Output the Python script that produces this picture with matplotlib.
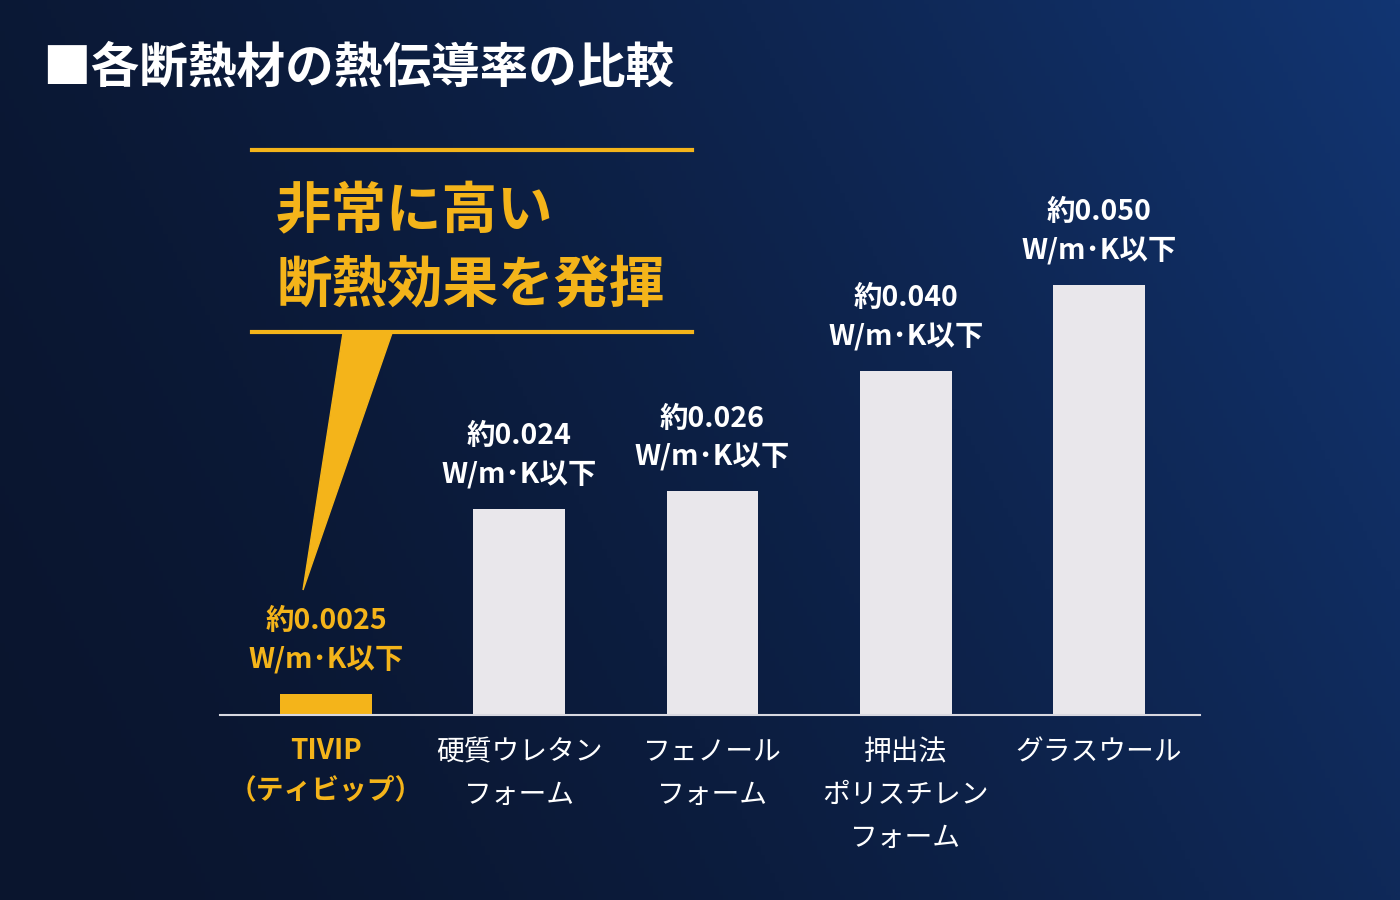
import matplotlib
matplotlib.use("Agg")
import matplotlib.pyplot as plt
import numpy as np
from matplotlib.patches import Polygon

plt.rcParams['font.family'] = ['Noto Sans CJK JP', 'DejaVu Sans']

categories = ["TIVIP\n（ティビップ）", "硬質ウレタン\nフォーム", "フェノール\nフォーム",
              "押出法\nポリスチレン\nフォーム", "グラスウール"]
values = [0.0025, 0.024, 0.026, 0.040, 0.050]
value_labels = ["約0.0025", "約0.024", "約0.026", "約0.040", "約0.050"]
unit = "W/m･K以下"

W, H = 1400, 900
GOLD = "#f4b41a"
BAR = "#e9e7eb"

fig = plt.figure(figsize=(14, 9), dpi=100)

def fx(px):
    return px / W

def fy(py):
    return 1 - py / H

# background gradient
bg = fig.add_axes([0, 0, 1, 1])
xx = np.linspace(0, 1, 300)
yy = np.linspace(0, 1, 200)
X, Y = np.meshgrid(xx, yy)
t = np.clip(0.75 * X + 0.25 * (1 - Y), 0, 1) ** 1.6
c0 = np.array([0x0a, 0x15, 0x2e]) / 255
c1 = np.array([0x12, 0x35, 0x72]) / 255
img = c0[None, None, :] * (1 - t[..., None]) + c1[None, None, :] * t[..., None]
bg.imshow(img, aspect="auto", extent=[0, 1, 0, 1], origin="upper")
bg.set_axis_off()

# main bar axes
left, right, base, top = 220, 1200, 715, 285
ax = fig.add_axes([fx(left), fy(base), fx(right - left), (base - top) / H])
ax.patch.set_alpha(0)
x = np.arange(len(values))
colors = [GOLD] + [BAR] * (len(values) - 1)
ax.bar(x, values, width=0.476, color=colors)
ax.set_xlim(-0.549, 4.523)
ax.set_ylim(0, 0.05)
for s in ["top", "right", "left"]:
    ax.spines[s].set_visible(False)
ax.spines["bottom"].set_color("#d8d8e0")
ax.spines["bottom"].set_linewidth(1.5)
ax.set_yticks([])
ax.set_xticks([])

for i, (v, lab) in enumerate(zip(values, value_labels)):
    col = GOLD if i == 0 else "white"
    ax.annotate(f"{lab}\n{unit}", (i, v), xytext=(0, 14), textcoords="offset points",
                ha="center", va="bottom", color=col, fontsize=20.5,
                fontweight="bold", linespacing=1.5)
    ax.annotate(categories[i], (i, 0), xytext=(0, -16), textcoords="offset points",
                ha="center", va="top", color=col, fontsize=20,
                fontweight="bold" if i == 0 else "normal", linespacing=1.55)

# title
fig.text(fx(42), fy(68), "■各断熱材の熱伝導率の比較", color="white", fontsize=35,
         fontweight="bold", va="center", ha="left")

# callout
for py in (150, 332):
    fig.add_artist(plt.Line2D([fx(252), fx(692)], [fy(py), fy(py)], color=GOLD,
                              lw=3, transform=fig.transFigure))
fig.text(fx(276), fy(212), "非常に高い", color=GOLD, fontsize=40, fontweight="bold",
         va="center", ha="left")
fig.text(fx(276), fy(285), "断熱効果を発揮", color=GOLD, fontsize=40, fontweight="bold",
         va="center", ha="left")
fig.add_artist(Polygon([[fx(343), fy(333)], [fx(392), fy(333)], [fx(303), fy(590)]],
                       closed=True, color=GOLD, transform=fig.transFigure))

fig.savefig("out.png", dpi=100)
